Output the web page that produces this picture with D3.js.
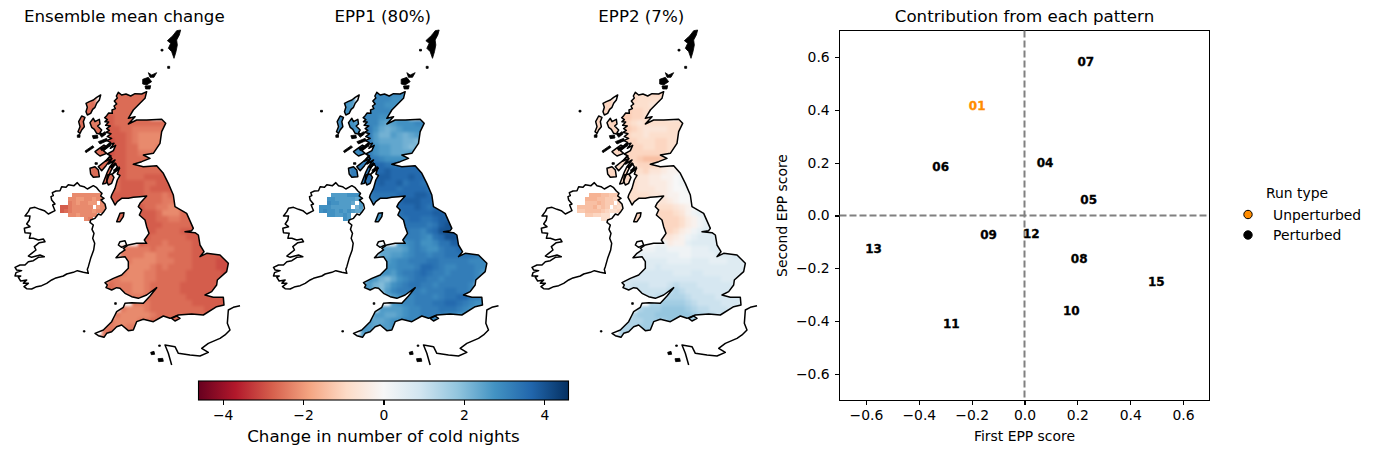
<!DOCTYPE html>
<html><head><meta charset="utf-8">
<script src="https://cdn.jsdelivr.net/npm/d3@7"></script>
<style>
html,body{margin:0;padding:0;background:#fff}
svg{display:block}
text{font-family:"DejaVu Sans";fill:#000}
.axis path,.axis line{stroke:#000;stroke-width:1.1;shape-rendering:crispEdges}
.axis text{font-size:13.9px;font-family:"DejaVu Sans"}
</style></head><body>
<svg id="chart" width="1376" height="454"></svg>
<script>
// ---- panel titles
const mapTitles = ["Ensemble mean change","EPP1 (80%)","EPP2 (7%)"];
// ---- scatter data
const runIds   = ["01","04","05","06","07","08","09","10","11","12","13","15"];
const firstEpp = [-0.179,0.078,0.243,-0.317,0.232,0.207,-0.136,0.177,-0.277,0.026,-0.571,0.499];
const secondEpp= [0.415,0.200,0.062,0.187,0.583,-0.161,-0.070,-0.359,-0.407,-0.066,-0.123,-0.250];
const unperturbedRun = "01";
const scatterTicks = [-0.6,-0.4,-0.2,0,0.2,0.4,0.6];
const cbarTicks = [-4,-2,0,2,4];
const legendItems = ["Unperturbed","Perturbed"];
// RdBu stops
const rdbu = ["#67001f","#b2182b","#d6604d","#f4a582","#fddbc7","#f7f7f7","#d1e5f0","#92c5de","#4393c3","#2166ac","#053061"];

// ---- field values per coarse land cell: letters a..w = -0.2..-4.6, A..W = +0.2..+4.6, 0 = 0, . = no data
const gridMean = [
".......llmmmmmmmn",
"....ll.llmmmmmmmm",
"....lm.llmmmmmmml",
"....mm.mmmmmmmm",
"...mmm.nnmmmmmm",
"...mmllnnmmmmmmmmmmm",
"...mmlmnnnmmllllllmm",
"...mmmmnnnnmlkkkkllm",
"...mmmmoonnmlkkkkklm",
"....mmmoonnmmkkklmmm",
"....mmmmonnmmlllmnnm",
"....mmmmnnnmmmmmnnnn",
"....mmmmnnnmmmmmmmmm",
".....mmmmnnmmmmmmnnn",
".....mmmmmnmmmnnnnnn",
".......mmmnnnnmmnnnnn",
".......mmmnnnnmnnnnnnn",
"........nnnnnnmmmlmmnnnn",
"........mnnnmmmmmllmnnn",
"...........nnnmmllkkmmnnn",
".........mm.nnnnmkkkmmnnnn",
".........mm.nnnnmmllmmnnnnn",
"............nnnnnmmmmmnnnnnn",
"............nnnnmmmmnnnnnnn",
"............nnnmmmmmmnnnnnnn",
".............nmmmlmmmmnnnnnnn",
"..........lllllmlllmmmnnnnnnn",
"..........llllkkllmmmmnnnnnoo",
".........lllkkkklllmmmnnnnooo",
".........llkkkklmlmmmmnnnnooo",
"........lllkkkllmmmmmnnnnnnoo",
"........llkkkkllmmmmmnnnnnnn.",
".......lmlllkklmmmmmnnnnnnnn",
".......mmlllkklmmmmmnnnnnnnn",
"...........lllmmmmmmmnnnnnnn",
"............lllmmmmmmmnnnnnnn",
"..........lkkklmmmmmmmmmnnnnn",
".........lkkkkklmmmmmmmmmmmn.",
"........lkkkkllmmmmmmmmmm",
".......llkklllmmmm",
".......lmlllm",
"......mmmmm"
];
const gridEpp1 = [
".......OOOOOOONNN",
"....NN.OOOOONNNNN",
"....NM.OOOONNNNNN",
"....NN.OOOOONNN",
"...OOO.OOONNNMM",
"...OONMOOOMLMNNNOOOO",
"...OOOMPPNLKLMNNNNNO",
"...OONNPPMKKMLKLMNNO",
"...OOOOPPMLLLLKKJLNN",
"....OOOPPNMMLLKJKMOO",
"....OOOOPNMMLLLMNOOO",
"....PPOOPPONNNNOPQPP",
"....PPPPRRRQQQQRRRQQ",
".....PPPQRRSRRRRRRRQ",
".....PPPRSSSRRRSRRRQ",
".......QQRSRRSQRRQQQ",
".......QQRRRRQRRRRQQP",
"........PQQQQRRRSSRPPO",
"........PPQQRRSSSRRQPP",
"...........QQRRRSRQRRQPP",
".........NN.QQRRRRRSSRQPP",
".........NN.QQQRRQQRSSSRPP",
"............QQQQQQPQSTTSRQP",
"............QQQPPOQRTTTSRQ",
"............PPPPPONQRTTSRRQ",
".............MNOPNNOQQSSSQP",
"..........LLLLMOPONNPQQRRQPP",
"..........LLMMNOPPOPPQQQQQPON",
".........LMMNOOPPPQQPPPPPOOON",
".........LMNNOOOPRRQPOOPPPOON",
"........MMNNMOPPQRQPPOPPPPOM",
"........NMKJLNOPQQPPOPPPPPO.",
".......NMKJLNOPQQPPOPPPPPO",
".......NMJJMOPPPPOPPPQQPPO",
"...........LMNOOPPPOPQQRRPPON",
"............MNOOPPPQQRRQPONN.",
"..........MMMMNOOPPPQQQPONMMN",
".........MMLLMNOOPPPPOONMMLL.",
"........MLLMNNOONNOONMLLM",
".......NMLMMNMLLLM",
".......MMMMLLL",
"......NMMMM"
];
const gridEpp2 = [
".......dddddeeeee",
"....ee.eeedddddde",
"....ee.eedddcccdd",
"....ee.ffeeddcc",
"...eee.ffeedddc",
"...eeeffedcddddddddd",
"...eeeeffedccccdddee",
"...eeeeeeddcddddddde",
"...eeeeeeedddeedddee",
"....eeeeeeeddeedddee",
"....eeeeeeeeeeeddeee",
"....eeeeeefgggeeddde",
"....ddddddeeeebbaa0A",
".....eeeeddeccbaa00A",
".....eeeedccbbaa0AAA",
".......dddccbbba0AAAA",
".......dddcccbba00AAAA",
"........ddddccbaa000AAA",
"........ddeecccba00AABB",
"...........dedddcba0ABBBB",
".........ee.deeedcaABBBCC",
".........ee.cdeeedbaABBBCCC",
"............adeeedbaABBCCCCC",
"............0ceedbaABCCCCCC",
"............AbccbaABCCCCCCD",
".............AAbaaBCCCCCDDD",
"..........AAABBAAAABBBCCCCDDD",
"..........BBBBBBBAABBBBCCCDDD",
".........BCCCCCBBBBCCCBBBCCCC",
".........BCCCDCCCCCCCCCCCCCCD",
"........DCDDDDDDCCCDDCCCCCCC",
"........DDDDDDDDDDDDDDDDCCCC.",
".......DDEEEDDDEFEEEDDDDDDCC",
".......EEEEEEEEFGFEEEDDDDDCC",
"...........EEFGGGGFEEEEDDDDCC",
"............GGHHHHGFEEEEDDDCC",
"..........GHHHIIIIHGFFEEEDDCC",
".........GHHHIIIIIIHGFFEEDDD.",
"........GGGHHHHIIHHGFFEEDD",
".......GGGHHHHHHGG",
".......GGGHHHH",
"......GGGGG"
];
// Northern Ireland, finer cells
const niMean = [
"...kkkkkkkk",
"..kkjjkkjkk",
"..lkjkkjj.k",
"nnlkkkkk.jk",
"nmlkkkkkjkk",
"..kkjkkkk",
"......kl"];
const niEpp1 = [
"...MMMMNNNM",
"..NNMMMMMLM",
"..ONNMMML.M",
"NNNMMMMM.KM",
"NONNMNMNMLL",
"..NNMMNM",
"......NM"];
const niEpp2 = [
"...hhhggfff",
"..hhhggffed",
"..ggghgff.e",
"gggghfgf.ed",
"ffggggfedde",
"..ffeedd",
"......dd"];

// ---- coastlines (map units)
const coastGB = [[440,215],[425,222],[405,221],[392,228],[378,222],[365,225],[355,217],[349,228],[352,234],[343,243],[350,252],[342,258],[346,266],[336,270],[337,280],[326,279],[320,287],[314,293],[322,299],[315,305],[326,306],[317,316],[331,318],[320,326],[328,331],[318,337],[333,341],[322,350],[335,355],[320,362],[332,367],[322,375],[342,370],[331,385],[347,376],[340,392],[322,402],[333,408],[316,424],[336,416],[325,432],[345,420],[330,440],[322,456],[316,472],[308,492],[318,490],[325,470],[333,452],[345,430],[352,440],[338,462],[358,445],[352,462],[360,466],[352,480],[345,505],[335,525],[333,532],[340,545],[345,555],[352,545],[365,535],[385,535],[400,532],[420,530],[440,528],[420,550],[415,560],[425,570],[418,585],[435,600],[440,620],[447,640],[433,660],[440,670],[410,670],[385,675],[370,685],[375,690],[360,700],[348,713],[375,710],[385,725],[385,745],[365,765],[340,775],[315,788],[322,795],[318,803],[335,810],[350,803],[360,805],[375,820],[395,830],[415,835],[440,825],[470,803],[450,828],[430,850],[395,848],[375,850],[370,862],[350,875],[345,885],[335,905],[310,930],[285,940],[295,947],[312,952],[320,940],[335,935],[350,920],[365,915],[385,932],[400,930],[410,905],[430,898],[460,905],[490,888],[510,895],[535,885],[575,882],[610,885],[650,860],[672,855],[670,832],[640,832],[615,825],[635,815],[650,795],[652,780],[680,755],[685,730],[660,705],[620,700],[600,710],[612,695],[600,675],[595,645],[585,638],[555,635],[575,632],[580,625],[560,580],[525,560],[520,525],[505,490],[490,460],[470,437],[430,440],[400,433],[425,425],[450,415],[430,405],[460,400],[480,370],[485,335],[497,310],[485,298],[440,300],[410,300],[385,312],[405,290],[385,295],[400,270],[420,250],[435,235]];
const coastIreland = [[153,530],[160,527],[157,518],[168,513],[180,512],[185,500],[198,502],[205,494],[222,497],[232,488],[240,497],[252,500],[262,507],[280,497],[290,503],[298,513],[306,520],[302,528],[312,535],[303,540],[315,552],[318,565],[310,577],[303,585],[295,582],[285,595],[272,600],[270,607],[280,615],[276,628],[282,640],[278,655],[284,670],[281,690],[272,715],[265,740],[262,748],[265,760],[250,757],[232,752],[220,757],[200,762],[190,768],[165,775],[155,780],[140,790],[125,797],[110,800],[95,807],[80,806],[72,800],[85,790],[70,790],[80,780],[62,783],[55,772],[62,768],[45,768],[48,758],[65,752],[50,750],[45,742],[60,735],[75,735],[85,725],[100,722],[115,712],[133,710],[120,705],[95,712],[85,708],[95,700],[108,690],[103,680],[118,668],[135,665],[130,657],[115,660],[100,655],[88,655],[92,640],[75,638],[73,625],[90,620],[80,612],[88,600],[90,588],[75,588],[85,575],[90,565],[105,562],[120,568],[133,572],[145,582],[165,572],[158,555],[165,552],[155,540]];
const coastIslands = [
 [[350,605],[360,580],[372,578],[370,590],[360,605]],
 [[360,665],[375,662],[380,675],[365,682],[355,675]],
 [[515,895],[530,888],[540,895],[525,903]],
 [[302,225],[298,240],[290,250],[285,262],[278,268],[272,280],[262,285],[258,275],[262,262],[258,250],[268,245],[280,240],[290,232]],
 [[245,288],[255,292],[250,305],[253,320],[245,330],[240,340],[234,335],[240,320],[236,305]],
 [[270,308],[280,295],[285,305],[298,298],[300,312],[293,318],[305,330],[300,338],[310,345],[290,340],[283,328],[275,322]],
 [[270,445],[285,440],[295,450],[298,470],[280,472],[272,462]],
 [[295,440],[320,420],[330,408],[335,415],[318,437],[305,452]],
 [[285,395],[298,385],[312,375],[322,382],[310,392],[320,400],[300,408],[292,402]],
 [[322,465],[335,462],[342,472],[335,490],[325,495],[320,483]]
];
const blackIslands = [
 [[520,45],[530,32],[542,30],[538,45],[530,60],[532,75],[528,95],[522,115],[515,95],[505,85],[512,70],[502,62],[515,50]],
 [[445,158],[455,165],[470,158],[462,172],[450,172]],
 [[428,178],[445,172],[455,185],[440,195],[428,192]],
 [[435,198],[452,197],[450,207],[437,207]],
 [[186,271],[192,271],[192,276],[186,276]],
 [[483,88],[489,88],[489,93],[483,93]],
 [[503,139],[509,139],[509,145],[503,145]],
 [[232,345],[240,343],[240,352],[232,352]],
 [[277,347],[292,345],[294,354],[280,356]],
 [[255,393],[278,377],[282,382],[258,398]],
 [[285,428],[292,428],[292,433],[285,433]],
 [[330,440],[345,428],[350,432],[335,446]],
 [[340,450],[358,440],[360,446],[345,456]],
 [[300,345],[315,335],[318,342],[305,352]],
 [[295,365],[320,355],[322,362],[300,372]],
 [[300,385],[330,372],[332,378],[305,392]],
 [[250,932],[255,932],[255,936],[250,936]],
 [[344,848],[349,848],[349,853],[344,853]],
 [[452,997],[462,994],[464,1003],[454,1004]],
 [[474,1016],[488,1015],[490,1024],[476,1025]],
 [[476,975],[481,975],[481,979],[476,979]]
];
const coastFrance = [[720,857],[700,862],[685,870],[682,910],[690,930],[675,945],[660,955],[625,970],[605,985],[625,997],[600,1008],[570,1005],[535,1000],[525,980],[495,975],[505,1000],[515,1035]];

// ---- layout
const svg = d3.select("#chart");
const panelStep = 258.5;
const eastScale  = d3.scaleLinear().domain([0,780]).range([0,260]);
const northScale = d3.scaleLinear().domain([0,1000]).range([20,353.33]);
const colorScale = d3.scaleLinear().domain(d3.range(11).map(i=>-4.6+0.92*i)).range(rdbu).interpolate(d3.interpolateRgb);
const line = d3.line().x(d=>eastScale(d[0])).y(d=>northScale(d[1]));
const closed = d3.line().x(d=>eastScale(d[0])).y(d=>northScale(d[1])).curve(d3.curveLinearClosed);

function decode(c){
  if(c==="."||c===undefined) return null;
  if(c==="0") return 0;
  const code=c.charCodeAt(0);
  return code>=97 ? -(code-96)*0.2 : (code-64)*0.2;
}
function cellsFrom(rows,e0,n0,de,dn){
  const out=[];
  rows.forEach((row,j)=>{[...row].forEach((c,i)=>{
    const v=decode(c);
    if(v!==null) out.push({e:e0+i*de,n:n0+j*dn,de,dn,v});
  });});
  return out;
}
function drawCells(sel,cells){
  sel.selectAll("rect").data(cells).join("rect")
   .attr("x",d=>eastScale(d.e)).attr("y",d=>northScale(d.n))
   .attr("width",d=>eastScale(d.e+d.de)-eastScale(d.e)+0.5)
   .attr("height",d=>northScale(d.n+d.dn)-northScale(d.n)+0.5)
   .attr("fill",d=>colorScale(d.v));
}

const defs = svg.append("defs");
const land = [coastGB,coastIreland,...coastIslands];
defs.append("clipPath").attr("id","land").selectAll("path").data(land).join("path").attr("d",closed);
const soft=defs.append("filter").attr("id","soft").attr("x","-5%").attr("y","-5%").attr("width","110%").attr("height","110%")
  .attr("color-interpolation-filters","sRGB");
soft.append("feGaussianBlur").attr("stdDeviation",1.7);

const fields=[[gridMean,niMean],[gridEpp1,niEpp1],[gridEpp2,niEpp2]];
fields.forEach((f,k)=>{
  const g=svg.append("g").attr("transform",`translate(${k*panelStep},0)`);
  const clip=g.append("g").attr("clip-path","url(#land)");
  drawCells(clip.append("g").attr("filter","url(#soft)"),cellsFrom(f[0],180,210,18,18));
  drawCells(clip.append("g").attr("shape-rendering","crispEdges"),cellsFrom(f[1],180,519,12,12));
  const coast=g.append("g").attr("fill","none").attr("stroke","#000").attr("stroke-width",1.5).attr("stroke-linejoin","round");
  coast.selectAll("path.l").data(land).join("path").attr("class","l").attr("d",closed);
  coast.append("path").datum(coastFrance).attr("d",line);
  coast.selectAll("path.b").data(blackIslands).join("path").attr("class","b").attr("d",closed).attr("fill","#000").attr("stroke-width",0.8);
  g.append("text").attr("x",124.3).attr("y",22).attr("text-anchor","middle").attr("font-size",16.67).text(mapTitles[k]);
});

// ---- colour bar
const cbX=d3.scaleLinear().domain([-4.6,4.6]).range([198.5,568.5]);
const cbTop=381,cbH=19;
const grad=defs.append("linearGradient").attr("id","cb");
rdbu.forEach((c,i)=>grad.append("stop").attr("offset",i/10).attr("stop-color",c));
svg.append("rect").attr("x",cbX(-4.6)).attr("y",cbTop).attr("width",cbX(4.6)-cbX(-4.6)).attr("height",cbH).attr("fill","url(#cb)").attr("stroke","#000").attr("stroke-width",1.1);
const cbAxis=svg.append("g").attr("class","axis").attr("transform",`translate(0,${cbTop+cbH})`)
  .call(d3.axisBottom(cbX).tickValues(cbarTicks).tickSize(4.9).tickPadding(4.9).tickFormat(d3.format("d")));
cbAxis.select(".domain").remove();
svg.append("text").attr("x",383.5).attr("y",442).attr("text-anchor","middle").attr("font-size",16.67).text("Change in number of cold nights");

// ---- scatter
const sx=d3.scaleLinear().domain([-0.7,0.7]).range([839.5,1209.5]);
const sy=d3.scaleLinear().domain([-0.7,0.7]).range([400.5,30.5]);
svg.append("g").attr("class","axis").attr("transform","translate(0,400.5)")
  .call(d3.axisBottom(sx).tickValues(scatterTicks).tickSize(4.9).tickPadding(4.9).tickFormat(d3.format(".1f")))
  .select(".domain").remove();
svg.append("g").attr("class","axis").attr("transform","translate(839.5,0)")
  .call(d3.axisLeft(sy).tickValues(scatterTicks).tickSize(4.9).tickPadding(4.9).tickFormat(d3.format(".1f")))
  .select(".domain").remove();
svg.append("rect").attr("x",sx(-0.7)).attr("y",sy(0.7)).attr("width",sx(0.7)-sx(-0.7)).attr("height",sy(-0.7)-sy(0.7))
  .attr("fill","none").attr("stroke","#000").attr("stroke-width",1.1).attr("shape-rendering","crispEdges");
const dash="7 3";
svg.append("line").attr("x1",sx(0)).attr("x2",sx(0)).attr("y1",sy(0.7)).attr("y2",sy(-0.7)).attr("stroke","#808080").attr("stroke-width",2).attr("stroke-dasharray",dash);
svg.append("line").attr("y1",sy(0)).attr("y2",sy(0)).attr("x1",sx(-0.7)).attr("x2",sx(0.7)).attr("stroke","#808080").attr("stroke-width",2).attr("stroke-dasharray",dash);
svg.selectAll("text.run").data(runIds).join("text").attr("class","run")
  .attr("x",(d,i)=>sx(firstEpp[i])).attr("y",(d,i)=>sy(secondEpp[i])+4.6)
  .attr("text-anchor","middle").attr("font-size",12).attr("font-weight","bold")
  .style("fill",d=>d===unperturbedRun?"#ff8c00":"#000")
  .style("stroke",d=>d===unperturbedRun?"#ff8c00":"#000").style("stroke-width",0.3).text(d=>d);
svg.append("text").attr("x",1024.5).attr("y",22).attr("text-anchor","middle").attr("font-size",16.67).text("Contribution from each pattern");
svg.append("text").attr("x",1024.5).attr("y",441).attr("text-anchor","middle").attr("font-size",13.9).text("First EPP score");
svg.append("text").attr("transform","translate(787,215.5) rotate(-90)").attr("text-anchor","middle").attr("font-size",13.9).text("Second EPP score");

// ---- legend
svg.append("text").attr("x",1297).attr("y",198).attr("text-anchor","middle").attr("font-size",13.9).text("Run type");
legendItems.forEach((t,i)=>{
  const y=214.5+i*20.5;
  svg.append("circle").attr("cx",1248).attr("cy",y).attr("r",4.2)
    .attr("fill",i===0?"#ff8c00":"#000").attr("stroke","#000").attr("stroke-width",1);
  svg.append("text").attr("x",1273).attr("y",y+5).attr("font-size",13.9).text(t);
});
</script>
</body></html>
